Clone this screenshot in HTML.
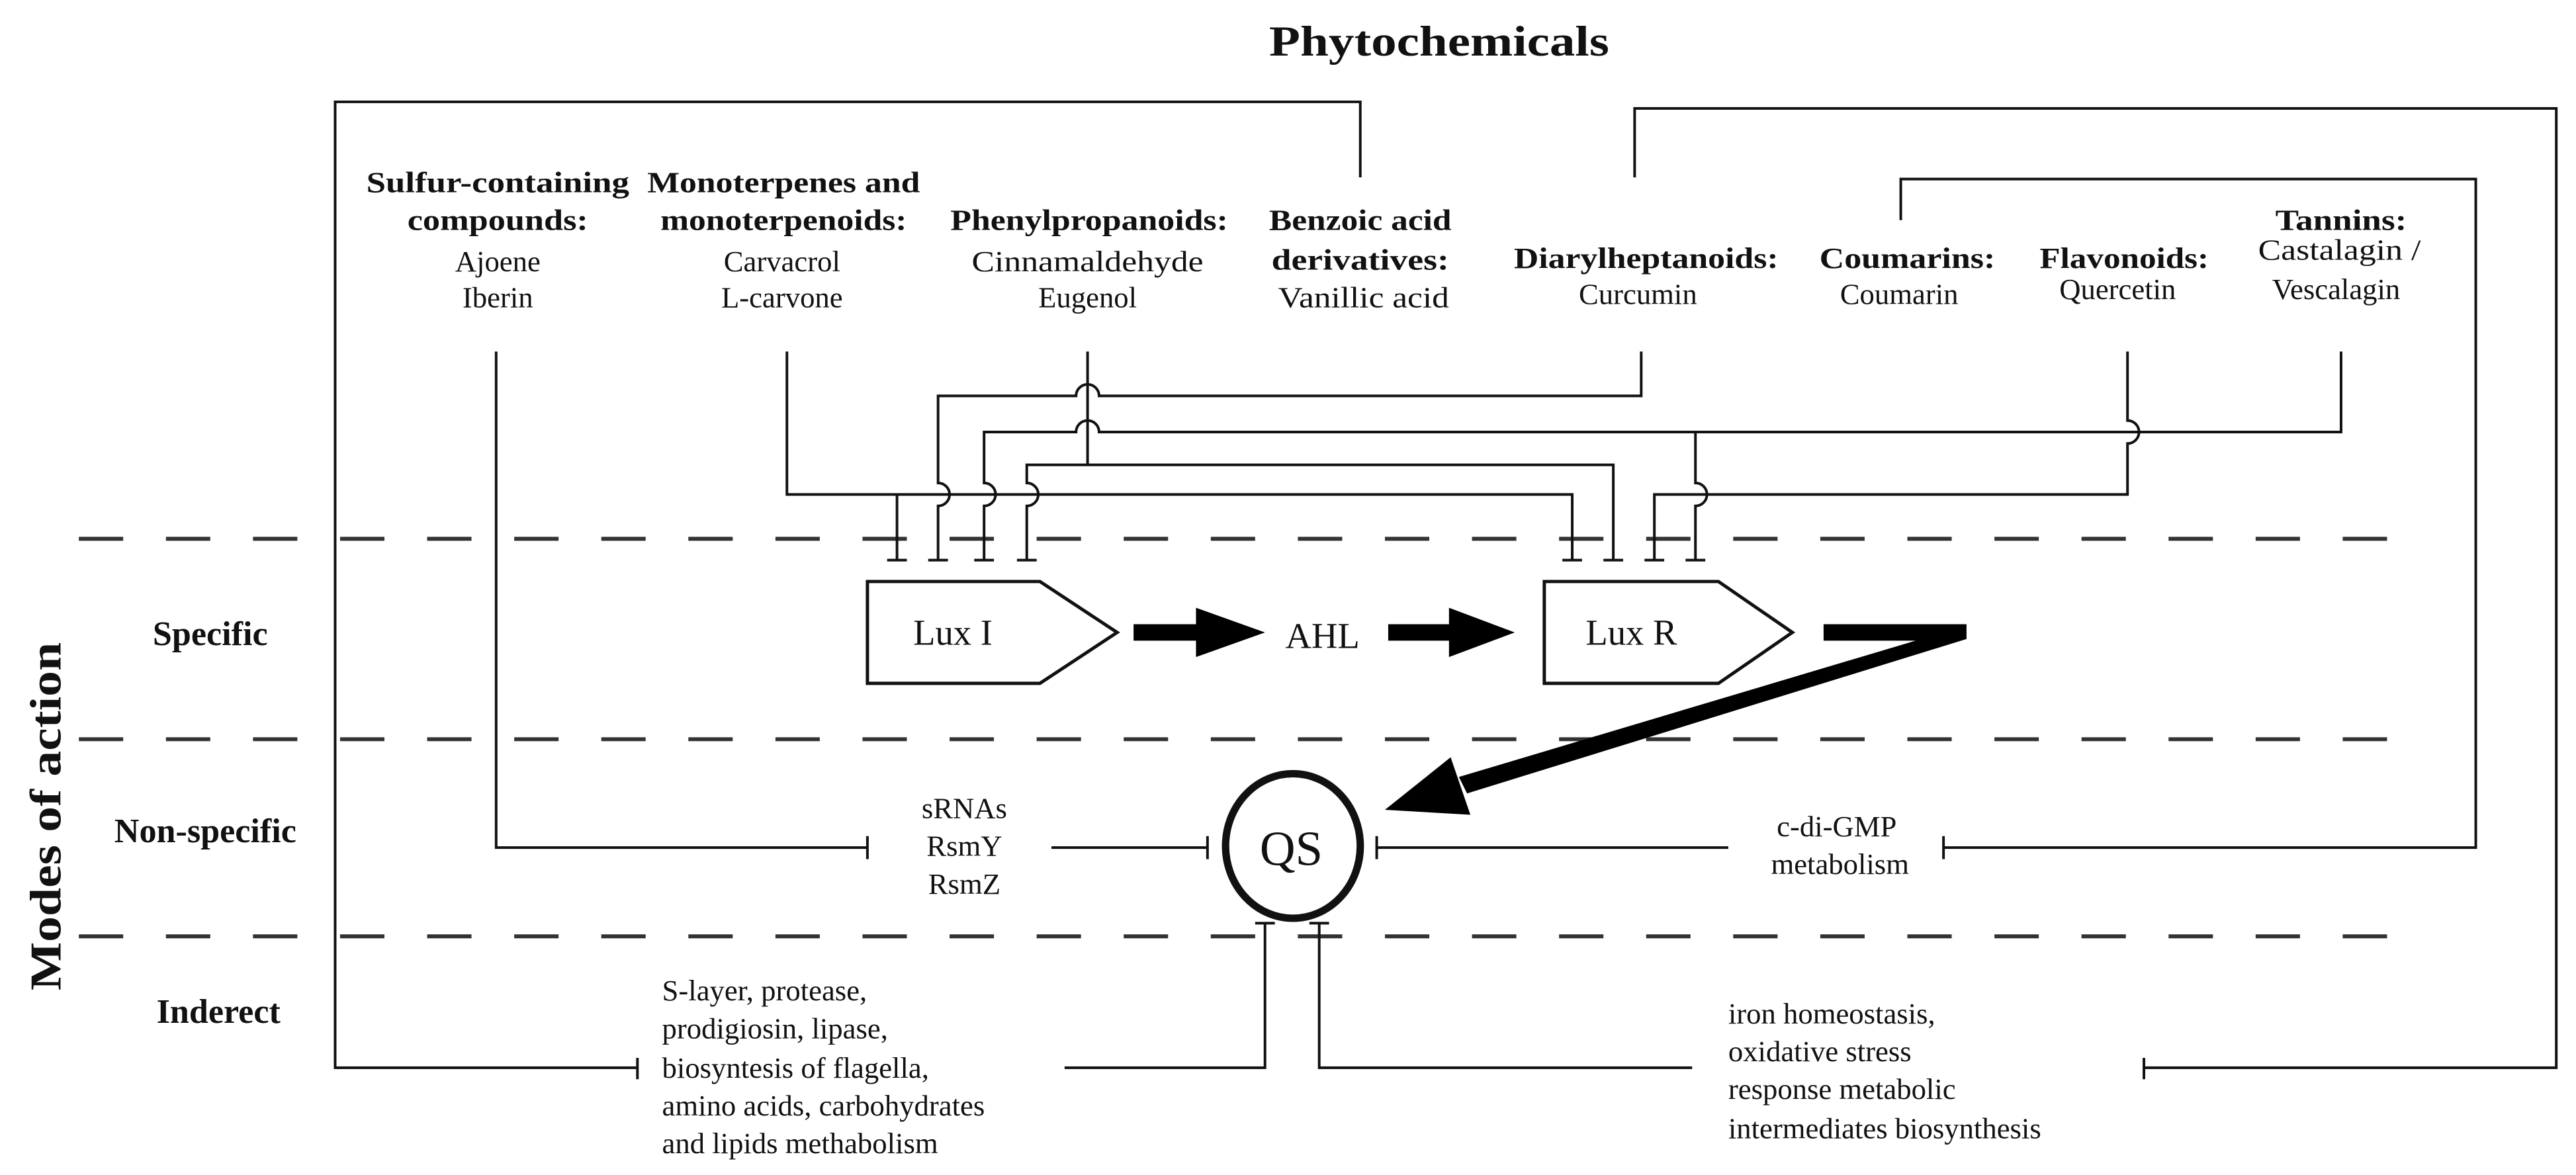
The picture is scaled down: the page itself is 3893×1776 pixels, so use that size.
<!DOCTYPE html>
<html><head><meta charset="utf-8"><style>
html,body{margin:0;padding:0;background:#fff;}
svg{display:block;}
text{font-family:"Liberation Serif",serif;fill:#111;}
.b{font-weight:bold;}
</style></head><body>
<svg width="3893" height="1776" viewBox="0 0 1568 715.3" preserveAspectRatio="none" xmlns="http://www.w3.org/2000/svg">
<g fill="none" stroke="#111" stroke-width="1.6">
<!-- dashed lines -->
<line x1="48" y1="328" x2="1475" y2="328" stroke-dasharray="27 26" stroke-width="2.4" stroke="#333"/>
<line x1="48" y1="450" x2="1475" y2="450" stroke-dasharray="27 26" stroke-width="2.4" stroke="#333"/>
<line x1="48" y1="570" x2="1475" y2="570" stroke-dasharray="27 26" stroke-width="2.4" stroke="#333"/>
<!-- left bracket -->
<polyline points="828,108 828,62 204,62 204,650 388,650"/>
<line x1="388" y1="644" x2="388" y2="657"/>
<!-- outer right bracket -->
<polyline points="995,108 995,66 1556,66 1556,650 1305,650"/>
<line x1="1305" y1="644" x2="1305" y2="657"/>
<!-- inner right bracket -->
<polyline points="1157,134 1157,109 1507,109 1507,516 1183,516"/>
<line x1="1183" y1="509" x2="1183" y2="523"/>
<!-- sulfur -->
<polyline points="302,214 302,516 528,516"/>
<line x1="528" y1="509" x2="528" y2="523"/>
<line x1="640" y1="516" x2="735" y2="516"/>
<line x1="735" y1="509" x2="735" y2="523"/>
<line x1="838" y1="516" x2="1052" y2="516"/>
<line x1="838" y1="509" x2="838" y2="523"/>
<!-- indirect lines to QS -->
<polyline points="648,650 770,650 770,562"/>
<line x1="764" y1="562" x2="776" y2="562"/>
<polyline points="1030,650 803,650 803,562"/>
<line x1="797" y1="562" x2="809" y2="562"/>
<!-- Monoterpenes line A -->
<polyline points="479,214 479,301 957,301 957,341"/>
<line x1="546" y1="301" x2="546" y2="341"/>
<!-- Curcumin line B -->
<path d="M999,214 V241 H669 A7 7 0 0 0 655 241 H571 V294 A7 7 0 0 1 571 308 V341"/>
<!-- Tannin line C -->
<path d="M1425,214 V263 H669 A7 7 0 0 0 655 263 H599 V294 A7 7 0 0 1 599 308 V341"/>
<path d="M1032,263 V294 A7 7 0 0 1 1032 308 V341"/>
<!-- Phenylpropanoid line D -->
<polyline points="662,214 662,283"/>
<path d="M982,341 V283 H625 V294 A7 7 0 0 1 625 308 V341"/>
<!-- Flavonoid line E -->
<path d="M1295,214 V256 A7 7 0 0 1 1295 270 V301 H1007 V341"/>
<!-- bars -->
<g>
<line x1="540" y1="341" x2="552" y2="341"/><line x1="565" y1="341" x2="577" y2="341"/>
<line x1="593" y1="341" x2="605" y2="341"/><line x1="619" y1="341" x2="631" y2="341"/>
<line x1="951" y1="341" x2="963" y2="341"/><line x1="976" y1="341" x2="988" y2="341"/>
<line x1="1001" y1="341" x2="1013" y2="341"/><line x1="1026" y1="341" x2="1038" y2="341"/>
</g>
<!-- Lux boxes -->
<polygon points="528,354 633,354 680,385 633,416 528,416" stroke-width="2"/>
<polygon points="940,354 1046,354 1091,385 1046,416 940,416" stroke-width="2"/>
<!-- QS -->
<ellipse cx="787" cy="515" rx="41" ry="44" stroke-width="4.5"/>
</g>
<!-- thick arrows -->
<polygon points="690,380 728,380 728,370 770,385 728,400 728,390 690,390" fill="#000"/>
<polygon points="845,380 882,380 882,370 922,385 882,400 882,390 845,390" fill="#000"/>
<polygon points="1110,380 1197,380 1197,389 893,483 888,473 1166,390 1110,390" fill="#000"/>
<polygon points="843,493 883,461 895,496" fill="#000"/>
<!-- texts -->
<g dominant-baseline="central" text-anchor="middle">
<text x="876" y="25" class="b" font-size="26" textLength="207" lengthAdjust="spacingAndGlyphs">Phytochemicals</text>
<g font-size="18">
<text x="303" y="111" class="b" textLength="160" lengthAdjust="spacingAndGlyphs">Sulfur-containing</text>
<text x="303" y="134" class="b" textLength="110" lengthAdjust="spacingAndGlyphs">compounds:</text>
<text x="303" y="159">Ajoene</text>
<text x="303" y="181">Iberin</text>
<text x="477" y="111" class="b" textLength="166" lengthAdjust="spacingAndGlyphs">Monoterpenes and</text>
<text x="477" y="134" class="b" textLength="150" lengthAdjust="spacingAndGlyphs">monoterpenoids:</text>
<text x="476" y="159">Carvacrol</text>
<text x="476" y="181">L-carvone</text>
<text x="663" y="134" class="b" textLength="169" lengthAdjust="spacingAndGlyphs">Phenylpropanoids:</text>
<text x="662" y="159" textLength="141" lengthAdjust="spacingAndGlyphs">Cinnamaldehyde</text>
<text x="662" y="181">Eugenol</text>
<text x="828" y="134" class="b" textLength="111" lengthAdjust="spacingAndGlyphs">Benzoic acid</text>
<text x="828" y="158" class="b" textLength="108" lengthAdjust="spacingAndGlyphs">derivatives:</text>
<text x="830" y="181" textLength="104" lengthAdjust="spacingAndGlyphs">Vanillic acid</text>
<text x="1002" y="157" class="b" textLength="161" lengthAdjust="spacingAndGlyphs">Diarylheptanoids:</text>
<text x="997" y="179">Curcumin</text>
<text x="1161" y="157" class="b" textLength="107" lengthAdjust="spacingAndGlyphs">Coumarins:</text>
<text x="1156" y="179">Coumarin</text>
<text x="1293" y="157" class="b" textLength="103" lengthAdjust="spacingAndGlyphs">Flavonoids:</text>
<text x="1289" y="176">Quercetin</text>
<text x="1425" y="134" class="b" textLength="80" lengthAdjust="spacingAndGlyphs">Tannins:</text>
<text x="1424" y="152" textLength="99" lengthAdjust="spacingAndGlyphs">Castalagin /</text>
<text x="1422" y="176">Vescalagin</text>
<text x="580" y="385" font-size="22">Lux I</text>
<text x="805" y="387" font-size="22">AHL</text>
<text x="993" y="385" font-size="22">Lux R</text>
<text x="786" y="517" font-size="30">QS</text>
<text x="587" y="492">sRNAs</text>
<text x="587" y="515">RsmY</text>
<text x="587" y="538">RsmZ</text>
<text x="1118" y="503">c-di-GMP</text>
<text x="1120" y="526">metabolism</text>
</g>
<g font-size="21" class="b">
<text x="128" y="386" class="b">Specific</text>
<text x="125" y="506" class="b">Non-specific</text>
<text x="133" y="616" class="b">Inderect</text>
</g>
<text x="28" y="497" font-size="27" class="b" transform="rotate(-90 28 497)" textLength="212" lengthAdjust="spacingAndGlyphs">Modes of action</text>
</g>
<g dominant-baseline="central" font-size="18">
<text x="403" y="603">S-layer, protease,</text>
<text x="403" y="626">prodigiosin, lipase,</text>
<text x="403" y="650">biosyntesis of flagella,</text>
<text x="403" y="673">amino acids, carbohydrates</text>
<text x="403" y="696">and lipids methabolism</text>
<text x="1052" y="617">iron homeostasis,</text>
<text x="1052" y="640">oxidative stress</text>
<text x="1052" y="663">response metabolic</text>
<text x="1052" y="687">intermediates biosynthesis</text>
</g>
</svg>
</body></html>
